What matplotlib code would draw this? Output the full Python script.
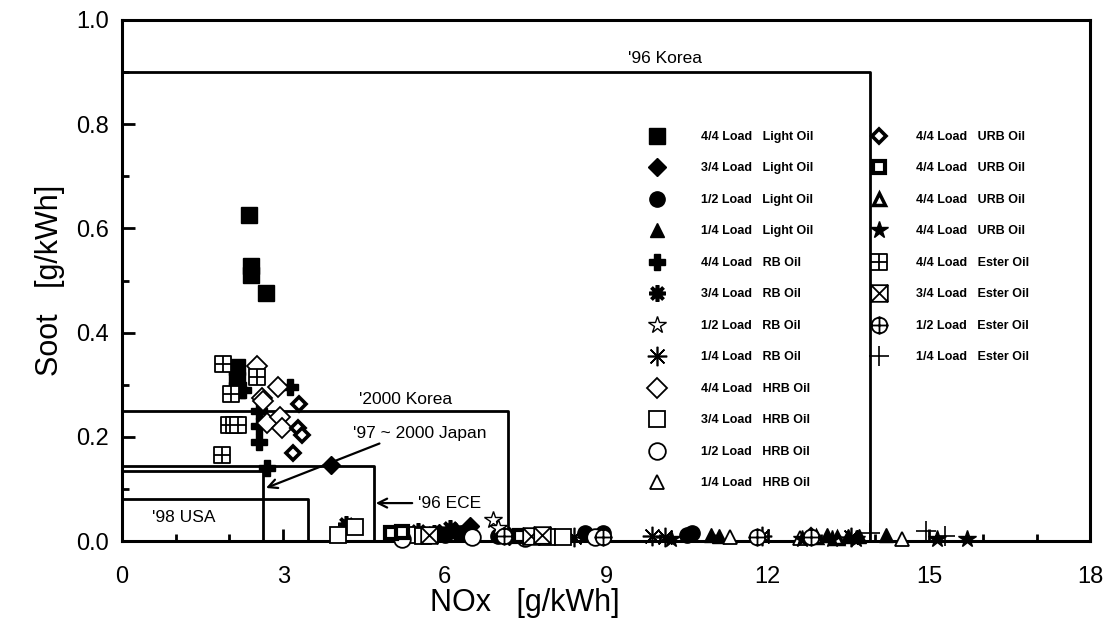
# coding: utf-8

import matplotlib
matplotlib.use('Agg')
import matplotlib.pyplot as plt
from matplotlib.path import Path
from matplotlib.ticker import MultipleLocator, FormatStrFormatter

plt.rcParams['font.family'] = ['Liberation Sans', 'DejaVu Sans']

# --- measured values (NOx [g/kWh], Soot [g/kWh]) ---
light_44_x = [2.37, 2.40, 2.40, 2.68, 2.15, 2.15, 2.15]
light_44_y = [0.625, 0.528, 0.510, 0.476, 0.335, 0.310, 0.290]
light_34_x = [3.88, 6.48, 6.20, 5.90, 7.20]
light_34_y = [0.146, 0.030, 0.020, 0.015, 0.010]
light_12_x = [6.00, 6.30, 7.00, 8.60, 8.95, 10.50, 10.60]
light_12_y = [0.012, 0.015, 0.010, 0.015, 0.015, 0.012, 0.015]
light_14_x = [10.95, 11.10, 13.10, 13.50, 13.70, 14.20]
light_14_y = [0.012, 0.010, 0.012, 0.010, 0.010, 0.012]

rb_44_x = [2.25, 3.13, 2.55, 2.55, 2.55, 2.70]
rb_44_y = [0.290, 0.296, 0.250, 0.220, 0.190, 0.140]
rb_34_x = [4.17, 5.50, 5.80, 6.10]
rb_34_y = [0.033, 0.020, 0.015, 0.025]
rb_12_x = [6.90, 7.00]
rb_12_y = [0.040, 0.025]
rb_14_x = [8.40, 9.85, 10.10, 11.90, 13.55]
rb_14_y = [0.008, 0.010, 0.008, 0.010, 0.008]

hrb_44_x = [2.51, 2.60, 2.62, 2.90, 2.70, 2.94, 2.98]
hrb_44_y = [0.336, 0.275, 0.268, 0.296, 0.226, 0.238, 0.217]
hrb_34_x = [4.02, 4.34, 5.30, 5.60, 7.90, 8.20]
hrb_34_y = [0.012, 0.027, 0.012, 0.010, 0.008, 0.008]
hrb_12_x = [5.20, 6.50, 7.50, 8.80]
hrb_12_y = [0.005, 0.008, 0.006, 0.008]
hrb_14_x = [11.30, 12.60, 14.50]
hrb_14_y = [0.008, 0.006, 0.005]

urb_d_x = [3.30, 3.28, 3.35, 3.19, 12.80]
urb_d_y = [0.263, 0.217, 0.203, 0.169, 0.010]
urb_s_x = [5.00, 5.20, 7.40]
urb_s_y = [0.015, 0.018, 0.010]
urb_t_x = [12.90, 13.30]
urb_t_y = [0.008, 0.006]
urb_star_x = [10.20, 12.65, 13.20, 13.65, 15.15, 15.70]
urb_star_y = [0.005, 0.005, 0.005, 0.005, 0.005, 0.005]

ester_44_x = [1.88, 2.03, 2.51, 2.00, 2.08, 2.16, 1.86]
ester_44_y = [0.340, 0.282, 0.315, 0.222, 0.222, 0.222, 0.165]
ester_34_x = [5.70, 7.60, 7.80]
ester_34_y = [0.012, 0.010, 0.012]
ester_12_x = [7.10, 8.95, 11.80, 12.80]
ester_12_y = [0.010, 0.008, 0.008, 0.008]
ester_14_x = [13.90, 14.95, 15.30]
ester_14_y = [0.015, 0.020, 0.010]

# emission regulations: name, NOx limit, soot limit
reg_names = ["'96 Korea", "'2000 Korea", "'96 ECE", "'97 ~ 2000 Japan", "'98 USA"]
reg_nox = [13.9, 7.17, 4.68, 2.63, 3.47]
reg_soot = [0.90, 0.25, 0.145, 0.135, 0.08]

# custom marker paths for the Ester oil symbols
M, L, C = Path.MOVETO, Path.LINETO, Path.CLOSEPOLY
sq = [(-1, -1), (1, -1), (1, 1), (-1, 1), (-1, -1)]
grid_sq = Path(sq + [(0, -1), (0, 1), (-1, 0), (1, 0)],
               [M, L, L, L, C, M, L, M, L])
cross_sq = Path(sq + [(-1, -1), (1, 1), (-1, 1), (1, -1)],
                [M, L, L, L, C, M, L, M, L])
circ_plus = Path.make_compound_path(
    Path.unit_circle(),
    Path([(0, -1.15), (0, 1.15)], [M, L]),
    Path([(-1.15, 0), (1.15, 0)], [M, L]))

asterisk = (8, 2, 0)

series = [
    (light_44_x, light_44_y, '4/4 Load   Light Oil', dict(marker='s', mfc='k', ms=11)),
    (light_34_x, light_34_y, '3/4 Load   Light Oil', dict(marker='D', mfc='k', ms=9)),
    (light_12_x, light_12_y, '1/2 Load   Light Oil', dict(marker='o', mfc='k', ms=11)),
    (light_14_x, light_14_y, '1/4 Load   Light Oil', dict(marker='^', mfc='k', ms=10)),
    (rb_44_x, rb_44_y, '4/4 Load   RB Oil', dict(marker='P', mfc='k', ms=11)),
    (rb_34_x, rb_34_y, '3/4 Load   RB Oil', dict(marker=asterisk, ms=12, mew=2.6)),
    (rb_12_x, rb_12_y, '1/2 Load   RB Oil', dict(marker='*', mfc='w', ms=13, mew=1)),
    (rb_14_x, rb_14_y, '1/4 Load   RB Oil', dict(marker=asterisk, ms=14, mew=1.2)),
    (hrb_44_x, hrb_44_y, '4/4 Load   HRB Oil', dict(marker='D', mfc='w', ms=10, mew=1.3)),
    (hrb_34_x, hrb_34_y, '3/4 Load   HRB Oil', dict(marker='s', mfc='w', ms=12, mew=1.3)),
    (hrb_12_x, hrb_12_y, '1/2 Load   HRB Oil', dict(marker='o', mfc='w', ms=12, mew=1.3)),
    (hrb_14_x, hrb_14_y, '1/4 Load   HRB Oil', dict(marker='^', mfc='w', ms=10, mew=1.3)),
    (urb_d_x, urb_d_y, '4/4 Load   URB Oil', dict(marker='D', mfc='w', ms=7, mew=2.6)),
    (urb_s_x, urb_s_y, '4/4 Load   URB Oil', dict(marker='s', mfc='w', ms=9, mew=3)),
    (urb_t_x, urb_t_y, '4/4 Load   URB Oil', dict(marker='^', mfc='w', ms=8, mew=2.5)),
    (urb_star_x, urb_star_y, '4/4 Load   URB Oil', dict(marker='*', mfc='k', ms=13)),
    (ester_44_x, ester_44_y, '4/4 Load   Ester Oil', dict(marker=grid_sq, mfc='w', ms=12, mew=1.3)),
    (ester_34_x, ester_34_y, '3/4 Load   Ester Oil', dict(marker=cross_sq, mfc='w', ms=12, mew=1.3)),
    (ester_12_x, ester_12_y, '1/2 Load   Ester Oil', dict(marker=circ_plus, mfc='w', ms=13, mew=1.3)),
    (ester_14_x, ester_14_y, '1/4 Load   Ester Oil', dict(marker='+', ms=15, mew=1.2)),
]

fig = plt.figure(figsize=(11.07, 6.22), dpi=100)
ax = fig.add_axes([0.110, 0.130, 0.875, 0.838])

# regulation boxes
for nox, soot in zip(reg_nox, reg_soot):
    ax.plot([0, nox, nox], [soot, soot, 0], color='k', lw=2, zorder=2)

handles = []
for xs, ys, label, style in series:
    h, = ax.plot(xs, ys, ls='none', color='k', mec='k', label=label,
                 clip_on=False, zorder=4, **style)
    handles.append(h)

ax.text(10.1, 0.912, reg_names[0], fontsize=12.5, ha='center', va='bottom')
ax.text(4.4, 0.258, reg_names[1], fontsize=12.5, ha='left', va='bottom')
ax.annotate(reg_names[3], xy=(2.68, 0.102), xytext=(4.3, 0.207),
            fontsize=12.5, ha='left', va='center',
            arrowprops=dict(arrowstyle='->', lw=1.6, color='k',
                            mutation_scale=16, shrinkA=0, shrinkB=0,
                            relpos=(0.25, 0.0)))
ax.annotate(reg_names[2], xy=(4.72, 0.073), xytext=(5.5, 0.073),
            fontsize=12.5, ha='left', va='center',
            arrowprops=dict(arrowstyle='->', lw=1.6, color='k',
                            mutation_scale=16, shrinkA=2, shrinkB=0))
ax.text(0.56, 0.045, reg_names[4], fontsize=12.5, ha='left', va='center')

leg1 = ax.legend(handles=handles[:12], loc='upper left',
                 bbox_to_anchor=(0.5465, 0.787), frameon=False, numpoints=1,
                 handlelength=1.0, handletextpad=3.0, labelspacing=1.56,
                 borderpad=0, borderaxespad=0,
                 prop=dict(weight='bold', size=9))
ax.add_artist(leg1)
ax.legend(handles=handles[12:], loc='upper left',
          bbox_to_anchor=(0.775, 0.787), frameon=False, numpoints=1,
          handlelength=1.0, handletextpad=2.5, labelspacing=1.56,
          borderpad=0, borderaxespad=0,
          prop=dict(weight='bold', size=9))

ax.set_xlim(0, 18)
ax.set_ylim(0, 1.0)
ax.xaxis.set_major_locator(MultipleLocator(3))
ax.xaxis.set_minor_locator(MultipleLocator(1))
ax.yaxis.set_major_locator(MultipleLocator(0.2))
ax.yaxis.set_minor_locator(MultipleLocator(0.1))
ax.yaxis.set_major_formatter(FormatStrFormatter('%.1f'))
ax.tick_params(which='both', direction='in', top=False, right=False,
               labelsize=17, width=2)
ax.tick_params(which='major', length=9)
ax.tick_params(which='minor', length=5)
ax.tick_params(axis='x', which='major', pad=18)
ax.tick_params(axis='y', which='major', pad=9)
for spine in ax.spines.values():
    spine.set_linewidth(2.2)

ax.set_xlabel('NOx   [g/kWh]', fontsize=22)
ax.xaxis.set_label_coords(0.416, -0.09)
ax.set_ylabel('Soot   [g/kWh]', fontsize=22, labelpad=8)

fig.savefig('out.png', dpi=100)
